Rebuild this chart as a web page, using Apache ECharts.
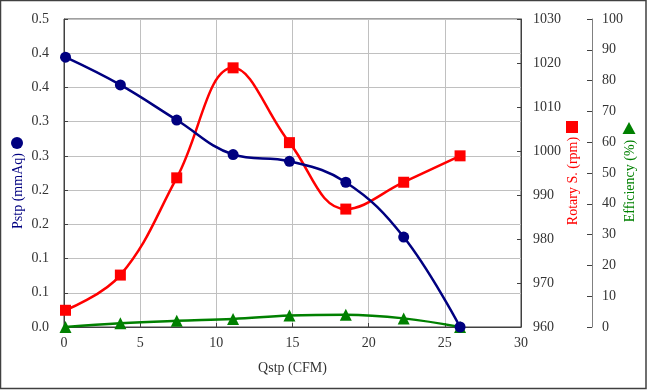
<!DOCTYPE html>
<html>
<head>
<meta charset="utf-8">
<script src="https://cdn.jsdelivr.net/npm/echarts@6/dist/echarts.min.js"></script>
<style>
html,body{margin:0;padding:0;background:#fff;}
#c{width:647px;height:390px;}
</style>
</head>
<body>
<div id="c"></div>
<script>
var qstp = [0.1, 3.7, 7.4, 11.1, 14.8, 18.5, 22.3, 26.0];
var pstp = [0.438, 0.393, 0.336, 0.280, 0.269, 0.235, 0.146, 0.0];
var rotary = [963.8, 971.8, 993.9, 1018.9, 1001.9, 986.8, 992.9, 998.9];
var efficiency = [0.0, 1.2, 2.0, 2.6, 3.7, 4.0, 2.8, 0.0];

function pairs(xs, ys){ return xs.map(function(x,i){ return [x, ys[i]]; }); }

var font = '"Liberation Serif", "DejaVu Serif", serif';
var txt = '#333333';
var axisDark = '#404040';

var chart = echarts.init(document.getElementById('c'));
chart.setOption({
  animation: false,
  grid: {left: 64, top: 19, right: 126, bottom: 63, show: true, borderColor: axisDark, borderWidth: 1, backgroundColor: 'transparent', containLabel: false, outerBoundsMode: 'none'},
  xAxis: {
    type: 'value', min: 0, max: 30, interval: 5,
    name: 'Qstp (CFM)', nameLocation: 'middle', nameGap: 34,
    nameTextStyle: {fontFamily: font, fontSize: 14, color: txt},
    axisLine: {show: true, lineStyle: {color: axisDark, width: 1}},
    axisTick: {show: true, inside: true, length: 4, lineStyle: {color: axisDark}},
    axisLabel: {fontFamily: font, fontSize: 14, color: txt, margin: 9},
    splitLine: {show: true, lineStyle: {color: '#c0c0c0', width: 1}}
  },
  yAxis: [
    {
      type: 'value', min: 0, max: 0.5, interval: 0.5/9, position: 'left',
      name: 'Pstp (mmAq)', nameLocation: 'middle', nameRotate: 90, nameGap: 39, nameMoveOverlap: false,
      nameTextStyle: {fontFamily: font, fontSize: 14, color: '#000080', padding: [0, 36, 0, 0]},
      axisLine: {show: true, lineStyle: {color: axisDark, width: 1}},
      axisTick: {show: true, inside: true, length: 4, lineStyle: {color: axisDark}},
      axisLabel: {fontFamily: font, fontSize: 14, color: txt, margin: 15, formatter: function(v){ return v.toFixed(1); }},
      splitLine: {show: true, lineStyle: {color: '#c0c0c0', width: 1}}
    },
    {
      type: 'value', min: 960, max: 1030, interval: 10, position: 'right',
      name: 'Rotary S. (rpm)', nameLocation: 'middle', nameRotate: 90, nameGap: 45, nameMoveOverlap: false,
      nameTextStyle: {fontFamily: font, fontSize: 14, color: '#ff0000', padding: [0, 16, 0, 0]},
      axisLine: {show: true, lineStyle: {color: axisDark, width: 1}},
      axisTick: {show: true, inside: true, length: 4, lineStyle: {color: axisDark}},
      axisLabel: {fontFamily: font, fontSize: 14, color: txt, margin: 12, formatter: function(v){ return String(v); }},
      splitLine: {show: false}
    },
    {
      type: 'value', min: 0, max: 100, interval: 10, position: 'right', offset: 71,
      name: 'Efficiency (%)', nameLocation: 'middle', nameRotate: 90, nameGap: 31, nameMoveOverlap: false,
      nameTextStyle: {fontFamily: font, fontSize: 14, color: '#008000', padding: [0, 16, 0, 0]},
      axisLine: {show: true, lineStyle: {color: '#808080', width: 1}},
      axisTick: {show: true, inside: true, length: 5, lineStyle: {color: axisDark}},
      axisLabel: {fontFamily: font, fontSize: 14, color: txt, margin: 10, formatter: function(v){ return String(v); }},
      splitLine: {show: false}
    }
  ],
  series: [
    {
      type: 'line', yAxisIndex: 2, data: pairs(qstp, efficiency), smooth: 0.4,
      symbol: 'triangle', symbolSize: 12, itemStyle: {color: '#008000'},
      lineStyle: {color: '#008000', width: 2.5}, z: 2
    },
    {
      type: 'line', yAxisIndex: 1, data: pairs(qstp, rotary), smooth: 0.4,
      symbol: 'rect', symbolSize: 11, itemStyle: {color: '#ff0000'},
      lineStyle: {color: '#ff0000', width: 2.5}, z: 3
    },
    {
      type: 'line', yAxisIndex: 0, data: pairs(qstp, pstp), smooth: 0.4,
      symbol: 'circle', symbolSize: 11, itemStyle: {color: '#000080'},
      lineStyle: {color: '#000080', width: 2.5}, z: 4
    }
  ],
  graphic: [
    {type: 'rect', shape: {x: 0.5, y: 0.5, width: 645.5, height: 388}, style: {fill: 'none', stroke: '#404040', lineWidth: 1.5}, silent: true},
    {type: 'circle', shape: {cx: 17, cy: 143, r: 6}, style: {fill: '#000080'}},
    {type: 'rect', shape: {x: 566, y: 121, width: 12, height: 12}, style: {fill: '#ff0000'}},
    {type: 'polygon', shape: {points: [[629, 122], [635.5, 134], [622.5, 134]]}, style: {fill: '#008000'}}
  ]
});
</script>
</body>
</html>
